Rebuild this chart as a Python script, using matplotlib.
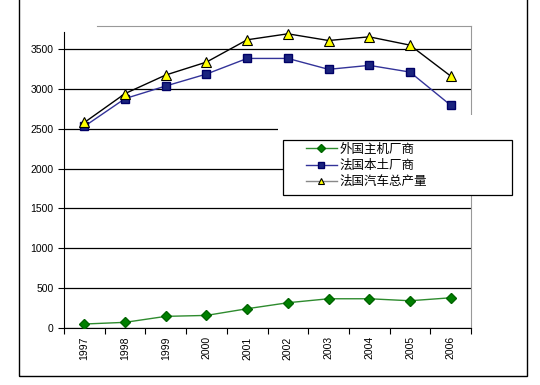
import matplotlib.pyplot as plt
from matplotlib.patches import Rectangle

# chart data
years = ['1997', '1998', '1999', '2000', '2001', '2002', '2003', '2004', '2005', '2006']
foreign = [50, 71, 146, 158, 242, 317, 367, 367, 342, 379]
domestic = [2530, 2879, 3037, 3187, 3383, 3383, 3246, 3296, 3212, 2796]
total = [2579, 2942, 3175, 3337, 3617, 3692, 3608, 3654, 3550, 3162]
labels = ['外国主机厂商', '法国本土厂商', '法国汽车总产量']
yticks = [0, 500, 1000, 1500, 2000, 2500, 3000, 3500]

plt.rcParams['font.family'] = ['Liberation Sans', 'DejaVu Sans']

W, H = 540, 385
fig = plt.figure(figsize=(W / 100, H / 100), dpi=100)
ax = fig.add_axes([64 / W, (H - 328) / H, (471 - 64) / W, (328 - 26) / H])

x = [i + 0.5 for i in range(len(years))]

ax.plot(x, foreign, color='#2e8b2e', lw=1, marker='D', ms=5.5,
        mfc='#008000', mec='#006400', label=labels[0], zorder=3)
ax.plot(x, domestic, color='#333399', lw=1, marker='s', ms=5.5,
        mfc='#1a237e', mec='#000066', label=labels[1], zorder=3)
ax.plot(x, total, color='black', lw=1, marker='^', ms=6.5,
        mfc='#ffff00', mec='black', mew=0.8, label=labels[2], zorder=3)

ax.set_xlim(0, len(years))
ax.set_ylim(0, 3790)
ax.set_yticks(yticks)
ax.set_yticklabels([str(v) for v in yticks], fontsize=7.5)
ax.set_xticks(range(len(years) + 1))
ax.set_xticklabels([])
ax.set_xticks(x, minor=True)
ax.set_xticklabels(years, minor=True, rotation=90, fontsize=7.5)
ax.tick_params(axis='x', which='minor', length=0, pad=6)
ax.tick_params(axis='both', which='major', direction='out', length=4, width=0.8)

ax.grid(axis='y', color='black', lw=0.9, zorder=1)
ax.set_axisbelow(True)

for s in ['top', 'right']:
    ax.spines[s].set_color('#999999')
ax.spines['top'].set_bounds(0.8, len(years))
ax.spines['left'].set_bounds(0, 3720)

# white patch above the legend, hiding part of the grid and border
fig.add_artist(Rectangle((278 / W, (H - 142) / H), (516 - 278) / W, (142 - 115) / H,
                         transform=fig.transFigure, facecolor='white',
                         edgecolor='none', zorder=4))
# legend box
fig.add_artist(Rectangle((283 / W, (H - 195) / H), (512 - 283) / W, (195 - 140) / H,
                         transform=fig.transFigure, facecolor='white',
                         edgecolor='black', lw=0.9, zorder=5))

leg = fig.legend(loc='upper left', bbox_to_anchor=(302 / W, (H - 139) / H),
                 prop={'family': ['Noto Sans CJK SC', 'DejaVu Sans'], 'size': 9},
                 frameon=False, borderpad=0.3, labelspacing=0.25,
                 handlelength=2.5, handletextpad=0.2, borderaxespad=0)
leg.set_zorder(6)
for h in leg.legend_handles:
    h.set_markersize(4.5)
leg.legend_handles[0].set_color('#2e8b2e')
leg.legend_handles[0].set_markerfacecolor('#008000')
leg.legend_handles[2].set_color('#888888')
leg.legend_handles[2].set_markerfacecolor('#ffff00')
leg.legend_handles[2].set_markeredgecolor('black')

# outer frame of the screenshot
fig.add_artist(Rectangle((19 / W, (H - 376) / H), (527 - 19) / W, 1.0,
                         transform=fig.transFigure, facecolor='none',
                         edgecolor='black', lw=1))

fig.savefig('out.png', dpi=100)
